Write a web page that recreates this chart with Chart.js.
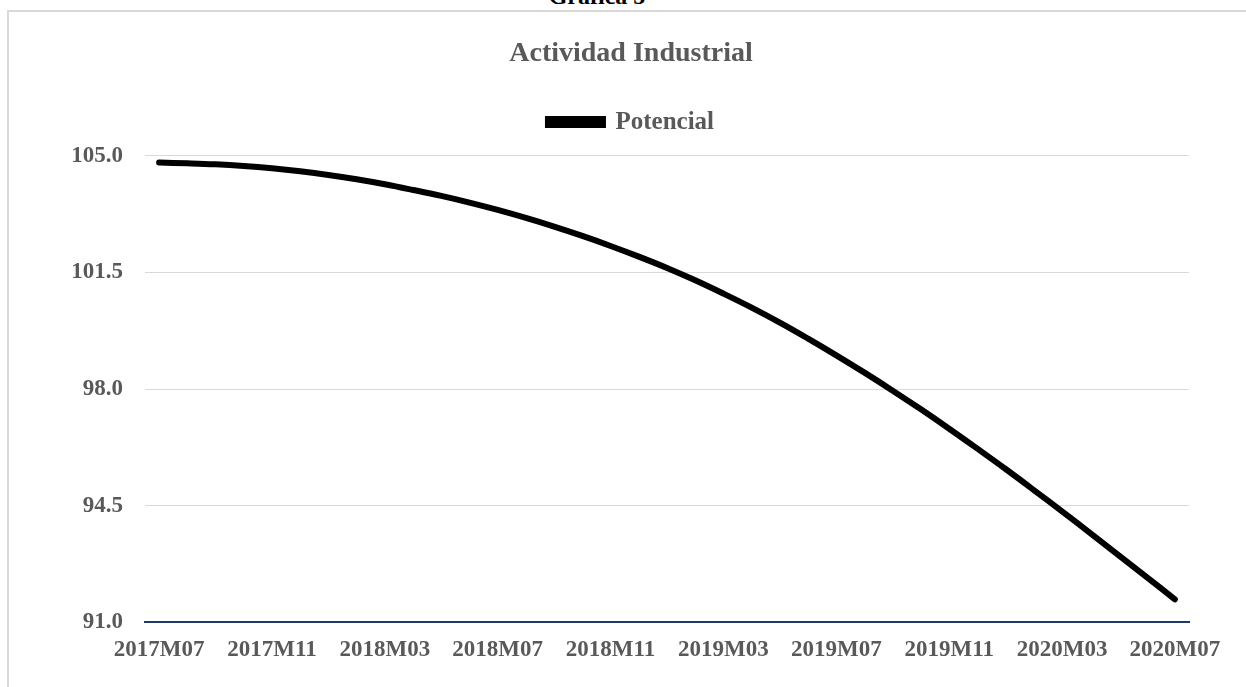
<!DOCTYPE html>
<html lang="es">
<head>
<meta charset="utf-8">
<title>Actividad Industrial</title>
<script src="https://cdn.jsdelivr.net/npm/chart.js@4/dist/chart.umd.min.js"></script>
<style>
  html, body {
    margin: 0;
    padding: 0;
    width: 1246px;
    height: 687px;
    overflow: hidden;
    background: #ffffff;
  }
  #frame {
    position: absolute;
    left: 7px;
    top: 10px;
    width: 1300px;
    height: 800px;
    border-left: 2px solid #d9d9d9;
    border-top: 2px solid #d9d9d9;
  }
  #grafica {
    position: absolute;
    left: 0;
    top: -16px;
    width: 1194px;
    text-align: center;
    font-family: 'Liberation Serif', serif;
    font-weight: bold;
    font-size: 24px;
    line-height: 24px;
    color: #000000;
  }
  #chart-wrap {
    position: absolute;
    left: 0;
    top: 0;
    width: 1246px;
    height: 687px;
  }
</style>
</head>
<body>
<div id="frame"></div>
<div id="grafica">Gráfica 5</div>
<div id="chart-wrap"><canvas id="chart"></canvas></div>
<script>
// Meses (eje X)
const months = [
  '2017M07', '2017M08', '2017M09', '2017M10', '2017M11', '2017M12',
  '2018M01', '2018M02', '2018M03', '2018M04', '2018M05', '2018M06',
  '2018M07', '2018M08', '2018M09', '2018M10', '2018M11', '2018M12',
  '2019M01', '2019M02', '2019M03', '2019M04', '2019M05', '2019M06',
  '2019M07', '2019M08', '2019M09', '2019M10', '2019M11', '2019M12',
  '2020M01', '2020M02', '2020M03', '2020M04', '2020M05', '2020M06',
  '2020M07',
];

// Serie "Potencial"
const potencial = [
  104.79, 104.77, 104.74, 104.69, 104.62, 104.53,
  104.42, 104.29, 104.14, 103.97, 103.79, 103.59,
  103.37, 103.13, 102.87, 102.59, 102.29, 101.97,
  101.63, 101.26, 100.86, 100.44, 99.99, 99.51,
  99.01, 98.49, 97.95, 97.39, 96.81, 96.21,
  95.60, 94.97, 94.33, 93.68, 93.02, 92.36,
  91.69,
];

// Marcas del eje Y
const yTicks = [91.0, 94.5, 98.0, 101.5, 105.0];

const textColor = '#595959';
const fontFamily = "'Liberation Serif', serif";

// Espacio extra debajo de la leyenda
const legendMargin = {
  id: 'legendMargin',
  beforeInit(chart) {
    const fitValue = chart.legend.fit;
    chart.legend.fit = function fit() {
      fitValue.bind(chart.legend)();
      this.height += 11;
    };
  },
};

const ctx = document.getElementById('chart');

const chartInstance = new Chart(ctx, {
  type: 'line',
  data: {
    labels: months,
    datasets: [
      {
        label: 'Potencial',
        data: potencial,
        borderColor: '#000000',
        backgroundColor: '#000000',
        borderWidth: 6,
        borderCapStyle: 'round',
        pointRadius: 0,
        tension: 0.4,
        fill: false,
      },
    ],
  },
  options: {
    responsive: true,
    maintainAspectRatio: false,
    animation: false,
    layout: {
      padding: {
        left: 73,
        right: 57,
        top: 0,
        bottom: 9,
      },
    },
    plugins: {
      title: {
        display: true,
        text: 'Actividad Industrial',
        color: textColor,
        font: {
          family: fontFamily,
          size: 28,
          weight: 'bold',
        },
        padding: {
          top: 37,
          bottom: 29,
        },
      },
      legend: {
        display: true,
        position: 'top',
        labels: {
          color: textColor,
          boxWidth: 55,
          boxHeight: 6,
          padding: 10,
          font: {
            family: fontFamily,
            size: 25,
            weight: 'bold',
          },
        },
      },
      tooltip: {
        enabled: false,
      },
    },
    scales: {
      x: {
        offset: true,
        ticks: {
          autoSkip: false,
          maxRotation: 0,
          padding: 14,
          color: textColor,
          font: {
            family: fontFamily,
            size: 23,
            weight: 'bold',
          },
          callback: function (value, index) {
            return index % 4 === 0 ? months[index] : '';
          },
        },
        grid: {
          display: false,
          drawTicks: false,
        },
        border: {
          display: true,
          color: '#203864',
          width: 2,
        },
      },
      y: {
        min: yTicks[0],
        max: yTicks[yTicks.length - 1],
        afterFit(scale) {
          scale.width = 72;
        },
        afterBuildTicks(scale) {
          scale.ticks = yTicks.map((v) => ({ value: v }));
        },
        ticks: {
          padding: 22,
          color: textColor,
          font: {
            family: fontFamily,
            size: 23,
            weight: 'bold',
          },
          callback: function (value) {
            return Number(value).toFixed(1);
          },
        },
        grid: {
          color: '#d9d9d9',
          lineWidth: 1,
          drawTicks: false,
        },
        border: {
          display: false,
        },
      },
    },
  },
  plugins: [legendMargin],
});
</script>
</body>
</html>
